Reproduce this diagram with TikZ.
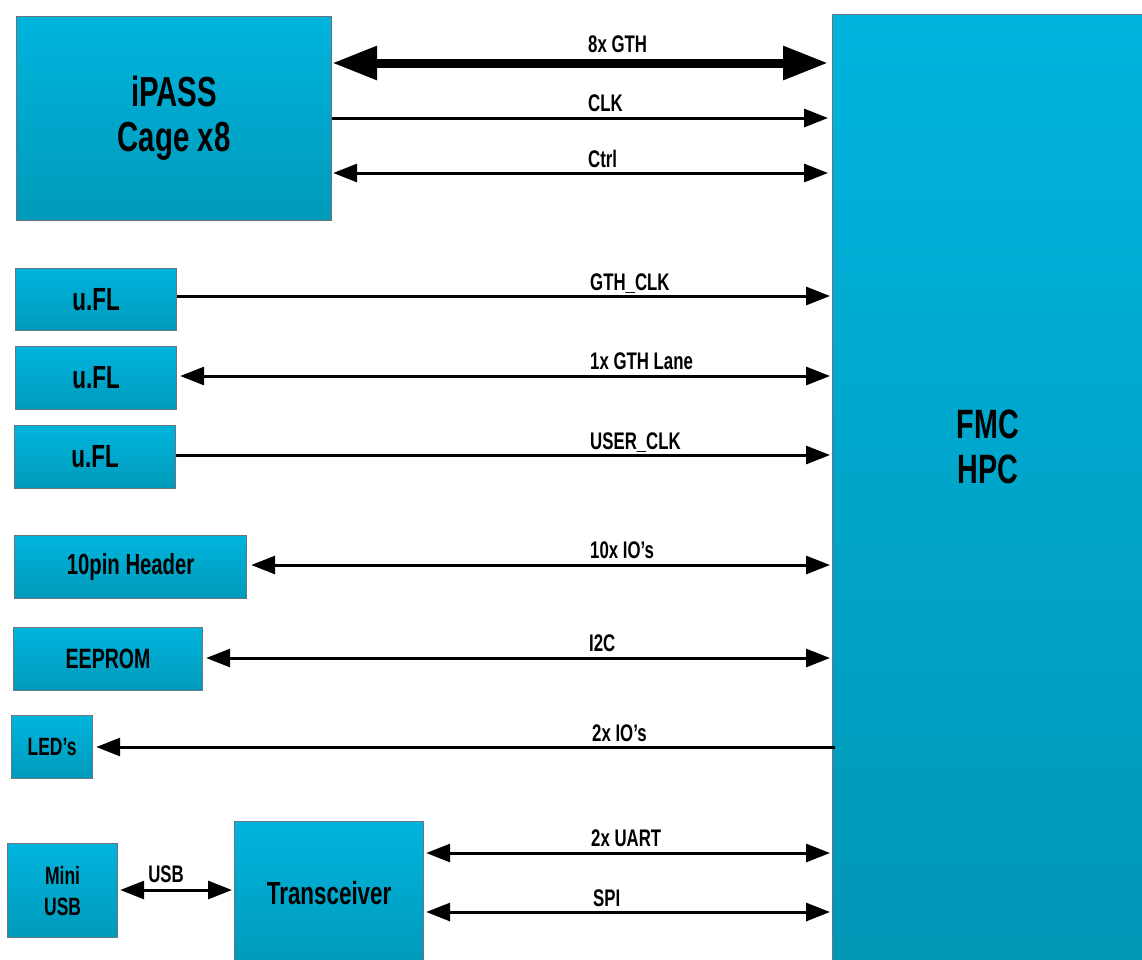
\documentclass[tikz,border=0pt]{standalone}
\usepackage{fontspec}
\setmainfont{Liberation Sans}[FakeStretch=0.7]
\usetikzlibrary{arrows.meta}
\definecolor{boxtop}{HTML}{00B4DD}
\definecolor{boxbot}{HTML}{009ABA}
\definecolor{fmcbot}{HTML}{0096B6}
\definecolor{boxline}{HTML}{66767C}
\tikzset{
  blk/.style={draw=boxline, line width=1.2pt, top color=boxtop, bottom color=boxbot,
    anchor=north west, inner sep=0pt, align=center},
  bfs/.style={font=\bfseries\fontsize{#1}{#1}\selectfont},
  lbl/.style={anchor=base west, inner sep=0pt, font=\bfseries\fontsize{24}{24}\selectfont},
  conn/.style={line width=3pt, draw=black, >={Triangle[length=24pt,width=18pt]}},
  thick conn/.style={line width=9pt, draw=black, >={Triangle[length=45pt,width=32pt]}},
}
\begin{document}
\begin{tikzpicture}[x=1pt,y=-1pt]
\useasboundingbox (0,0) rectangle (1142,959);
\clip (0,0) rectangle (1142,959);
\fill[white] (0,0) rectangle (1142,959);

% blocks
\node[blk, minimum width=315pt, minimum height=204pt, font=\bfseries\fontsize{42}{45}\selectfont] (ipass) at (16,16) {iPASS\\Cage x8};
\node[blk, top color=boxtop, bottom color=fmcbot, minimum width=330pt, minimum height=960pt] (fmc) at (832,14) {};
\node[align=center, inner sep=0pt, font=\bfseries\fontsize{41}{45}\selectfont] (fmctext) at (988,447) {FMC\\HPC};
\node[blk, minimum width=161pt, minimum height=62pt, bfs=32] (ufla) at (15,268) {u.FL};
\node[blk, minimum width=161pt, minimum height=63pt, bfs=32] (uflb) at (15,346) {u.FL};
\node[blk, minimum width=161pt, minimum height=63pt, bfs=32] (uflc) at (14,425) {u.FL};
\node[blk, minimum width=232pt, minimum height=63pt, bfs=29] (hdr) at (14,535) {10pin Header};
\node[blk, minimum width=189pt, minimum height=63pt, bfs=28] (eeprom) at (13,627) {EEPROM};
\node[blk, minimum width=81pt, minimum height=63pt, bfs=25] (leds) at (11,715) {LED’s};
\node[blk, minimum width=110pt, minimum height=94pt, font=\bfseries\fontsize{25}{31}\selectfont] (musb) at (7,843) {Mini\\USB};
\node[blk, minimum width=189pt, minimum height=142pt, bfs=32] (trans) at (234,821) {Transceiver};

% connectors
\draw[thick conn, <->] (ipass.east |- 0,63) -- ([xshift=-4pt]fmc.west |- 0,63);
\draw[conn, ->] (ipass.east |- 0,118) -- ([xshift=-4pt]fmc.west |- 0,118);
\draw[conn, <->] ([xshift=1pt]ipass.east |- 0,173) -- ([xshift=-4pt]fmc.west |- 0,173);
\draw[conn, ->] (ufla.east |- 0,296) -- ([xshift=-2pt]fmc.west |- 0,296);
\draw[conn, <->] ([xshift=3pt]uflb.east |- 0,376) -- ([xshift=-2pt]fmc.west |- 0,376);
\draw[conn, ->] (uflc.east |- 0,455) -- ([xshift=-2pt]fmc.west |- 0,455);
\draw[conn, <->] ([xshift=4pt]hdr.east |- 0,565) -- ([xshift=-2pt]fmc.west |- 0,565);
\draw[conn, <->] ([xshift=3pt]eeprom.east |- 0,658) -- ([xshift=-2pt]fmc.west |- 0,658);
\draw[conn, ->] ([xshift=3pt]fmc.west |- 0,747) -- ([xshift=3pt]leds.east |- 0,747);
\draw[conn, <->] ([xshift=2pt]trans.east |- 0,853) -- ([xshift=-2pt]fmc.west |- 0,853);
\draw[conn, <->] ([xshift=2pt]trans.east |- 0,912) -- ([xshift=-2pt]fmc.west |- 0,912);
\draw[conn, <->] ([xshift=2pt]musb.east |- 0,890) -- ([xshift=-2pt]trans.west |- 0,890);

% labels
\node[lbl] (l1) at (588,52) {8x GTH};
\node[lbl] (l2) at (588,111) {CLK};
\node[lbl] (l3) at (588,167) {Ctrl};
\node[lbl] (l4) at (590,290) {GTH\_CLK};
\node[lbl] (l5) at (590,369) {1x GTH Lane};
\node[lbl] (l6) at (590,449) {USER\_CLK};
\node[lbl] (l7) at (590,558) {10x IO’s};
\node[lbl] (l8) at (589,651) {I2C};
\node[lbl] (l9) at (592,741) {2x IO’s};
\node[lbl] (l10) at (591,846) {2x UART};
\node[lbl] (l11) at (593,906) {SPI};
\node[lbl, anchor=base] (l12) at (166,882) {USB};
\end{tikzpicture}
\end{document}
